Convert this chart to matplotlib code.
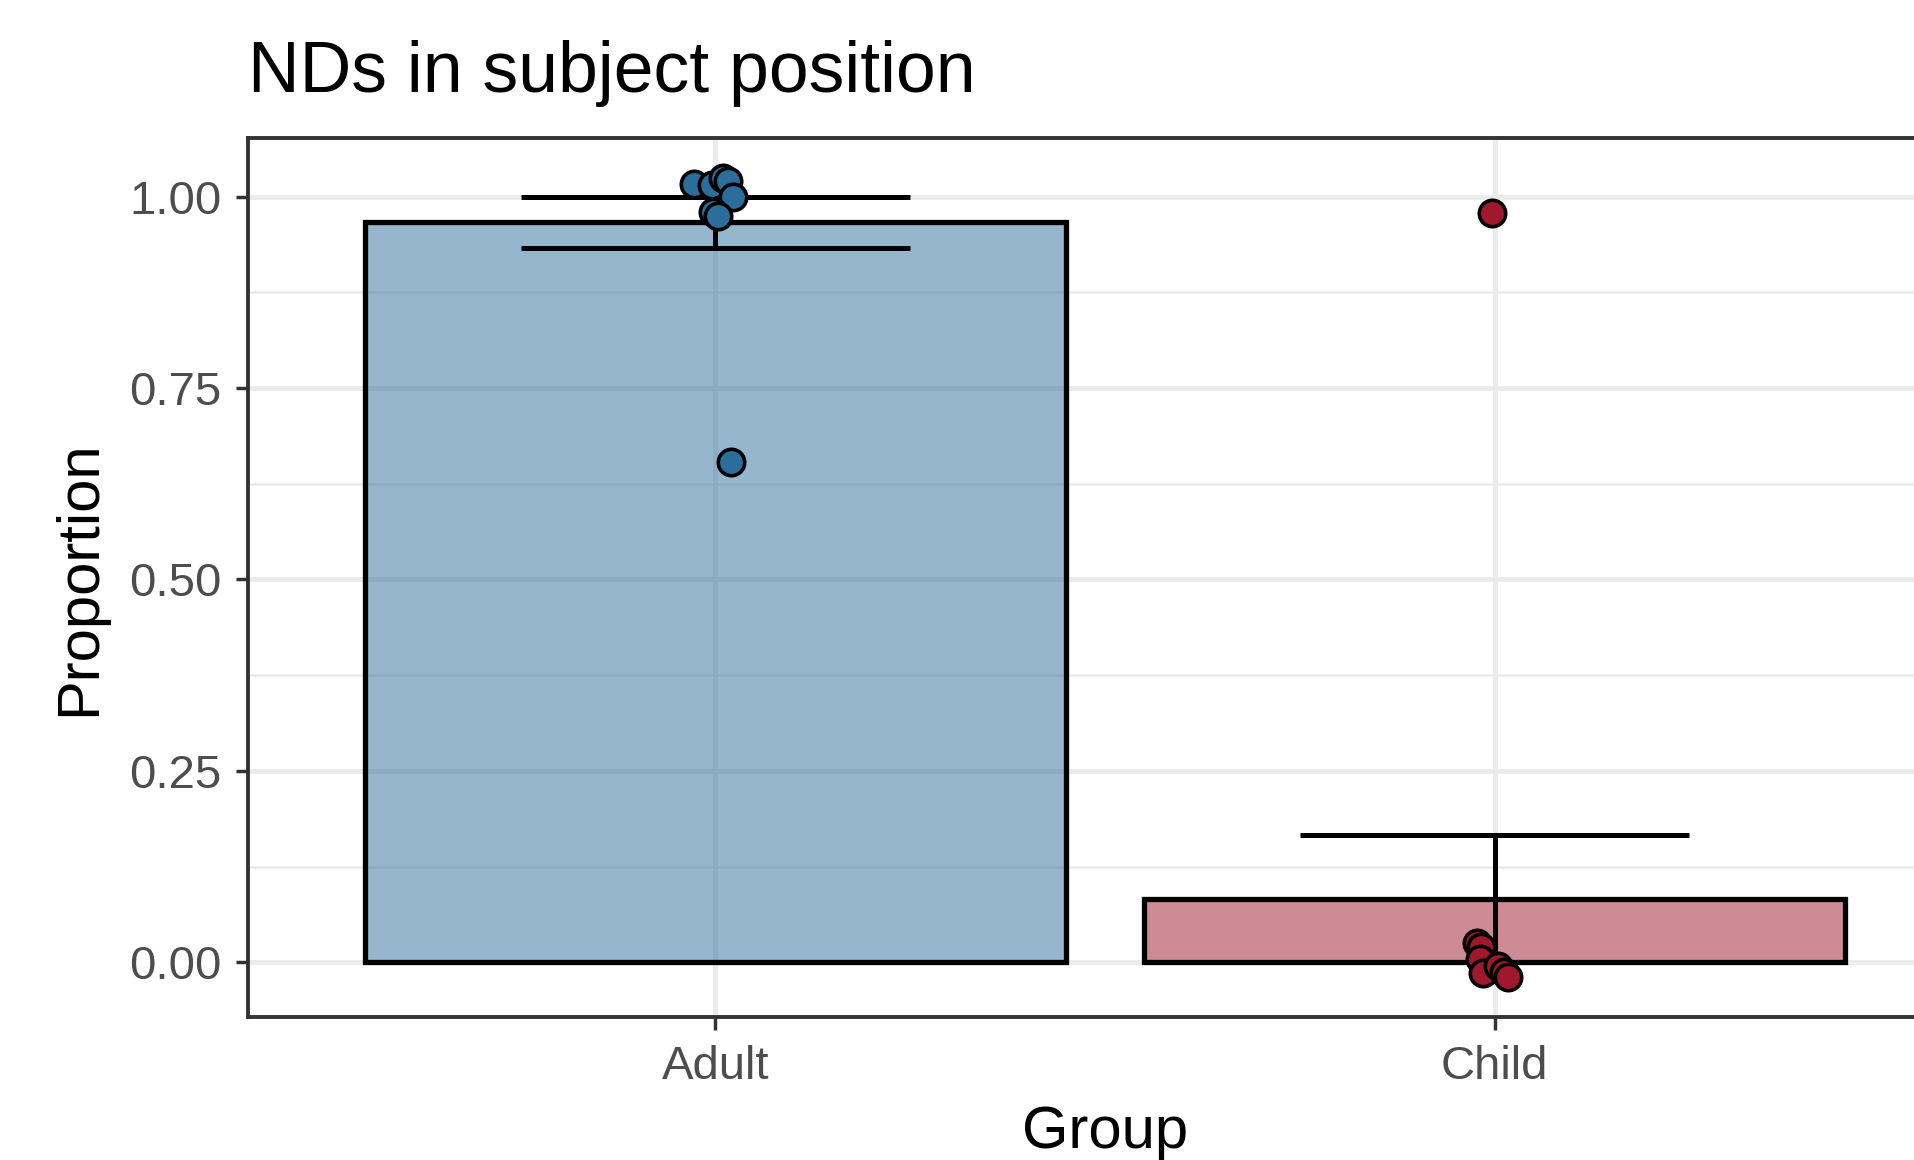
import matplotlib
matplotlib.use("Agg")
import matplotlib.pyplot as plt
import numpy as np

plt.rcParams['font.family'] = ['Liberation Sans', 'DejaVu Sans']

# ---- data ----
groups = ["Adult", "Child"]
means = [0.9667, 0.0833]
ses = [0.0333, 0.0833]
point_colors = ["#2C6E9B", "#A0182C"]

adult_jitter_x = [-0.027, -0.005, 0.010, 0.016, 0.022, -0.003, 0.003, 0.020]
adult_y = [1.017, 1.015, 1.024, 1.021, 1.000, 0.980, 0.974, 0.654]
child_jitter_x = [-0.003, -0.023, -0.018, -0.019, -0.015, 0.004, 0.012, 0.017]
child_y = [0.978, 0.025, 0.020, 0.005, -0.014, -0.005, -0.012, -0.019]

yticks = [0.00, 0.25, 0.50, 0.75, 1.00]
yticklabels = ["0.00", "0.25", "0.50", "0.75", "1.00"]
minor_ticks = [0.125, 0.375, 0.625, 0.875]

title = "NDs in subject position"
xlabel = "Group"
ylabel = "Proportion"

# ---- figure ----
W, H = 1915, 1160
fig = plt.figure(figsize=(W / 100, H / 100), dpi=100)
ax = fig.add_axes([248 / W, (H - 1017.3) / H, 1714 / W, (1017.3 - 138) / H])

xpos = np.arange(1, len(groups) + 1)
ax.set_xlim(0.4, 2.6)
ax.set_ylim(-0.0717, 1.0765)

# grid
for y in yticks:
    ax.axhline(y, color="#EBEBEB", lw=3.6, zorder=0)
for y in minor_ticks:
    ax.axhline(y, color="#EBEBEB", lw=1.8, zorder=0)
for x in xpos:
    ax.axvline(x, color="#EBEBEB", lw=3.6, zorder=0)

# bars
for x, m, c in zip(xpos, means, point_colors):
    ax.bar(x, m, width=0.9, facecolor=matplotlib.colors.to_rgba(c, 0.5),
           edgecolor="black", linewidth=3.8, zorder=2)

# error bars
for x, m, s in zip(xpos, means, ses):
    lo, hi = max(m - s, 0), m + s
    ax.plot([x, x], [lo, hi], color="black", lw=3.6, zorder=3, solid_capstyle="butt")
    ax.plot([x - 0.25, x + 0.25], [lo, lo], color="black", lw=3.6, zorder=3, solid_capstyle="butt")
    ax.plot([x - 0.25, x + 0.25], [hi, hi], color="black", lw=3.6, zorder=3, solid_capstyle="butt")

# points
ax.plot(xpos[0] + np.array(adult_jitter_x), adult_y, "o", ms=19, mfc=point_colors[0],
        mec="black", mew=2.6, zorder=4, linestyle="none")
ax.plot(xpos[1] + np.array(child_jitter_x), child_y, "o", ms=19, mfc=point_colors[1],
        mec="black", mew=2.6, zorder=4, linestyle="none")

# axes styling
for sp in ax.spines.values():
    sp.set_color("#333333")
    sp.set_linewidth(2.8)
ax.set_xticks(xpos)
ax.set_xticklabels(groups)
ax.set_yticks(yticks)
ax.set_yticklabels(yticklabels)
ax.tick_params(axis="both", length=9, width=2.5, color="#333333",
               labelcolor="#4D4D4D", labelsize=34)
ax.tick_params(axis="x", pad=11)
ax.tick_params(axis="y", pad=10)

fig.text(248 / W, (H - 91.7) / H, title, fontsize=51.5, color="black",
         ha="left", va="baseline")
fig.text(1105 / W, 12 / H, xlabel, fontsize=43, color="black",
         ha="center", va="baseline")
fig.text(80 / W, (H - 578) / H, ylabel, fontsize=43, color="black",
         ha="center", va="center", rotation=90)

fig.savefig("out.png", dpi=100)
